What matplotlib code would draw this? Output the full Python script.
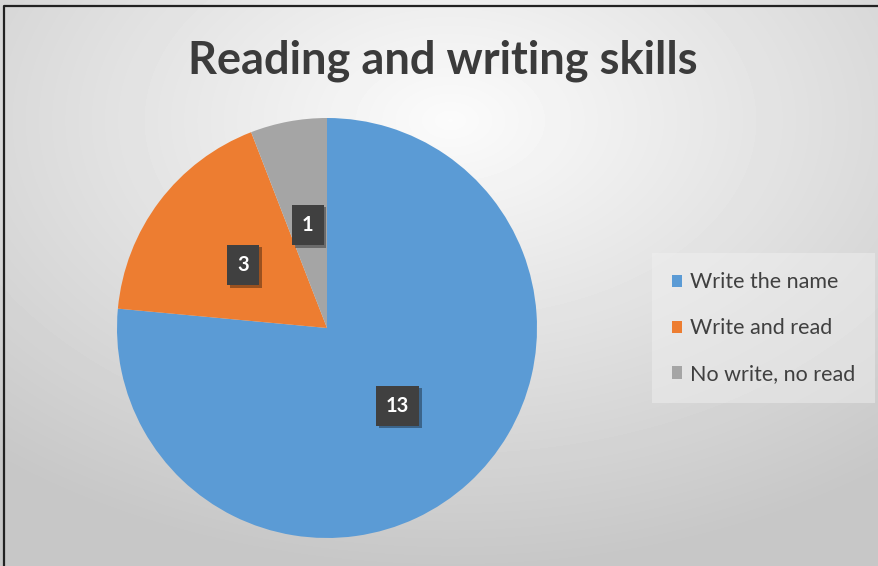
import numpy as np
import matplotlib
matplotlib.use("Agg")
import matplotlib.pyplot as plt
import matplotlib.patheffects as pe
from matplotlib.patches import Patch

labels = ["Write the name", "Write and read", "No write, no read"]
counts = [13, 3, 1]
colors = ["#5B9BD5", "#ED7D31", "#A5A5A5"]

plt.rcParams['font.family'] = ['Lato', 'DejaVu Sans']

fig = plt.figure(figsize=(8.79, 5.66), dpi=100)

# soft radial background, brightest just under the title
bg = fig.add_axes([0, 0, 1, 1], zorder=-10)
yy, xx = np.mgrid[0:566, 0:879]
d = np.sqrt(((xx - 450) / 879.0) ** 2 + ((yy - 120) / 566.0) ** 2)
shade = np.clip(0.985 - 0.26 * d, 0.78, 1.0)
bg.imshow(shade, cmap='gray', vmin=0, vmax=1, extent=[0, 879, 566, 0], aspect='auto')
bg.set_xlim(0, 879)
bg.set_ylim(566, 0)
bg.axis('off')
# frame on left and top edges
bg.plot([4.5, 4.5, 879], [566, 5.5, 5.5], color='#222222', lw=1.6)

fig.text(0.504, 0.893, "Reading and writing skills", ha='center', va='center',
         fontsize=32.5, fontweight='bold', color='#3b3b3b')

ax = fig.add_axes([117 / 879, 28 / 566, 420 / 879, 420 / 566])
wedges, _ = ax.pie(counts, colors=colors, startangle=90, counterclock=False,
                   radius=1.0, wedgeprops=dict(linewidth=0))
ax.set_xlim(-1, 1)
ax.set_ylim(-1, 1)
ax.set_aspect('equal')

# value labels in dark boxes with a drop shadow
total = sum(counts)
start = 90.0
for val in counts:
    mid = np.deg2rad(start - val / total * 360 / 2)
    start -= val / total * 360
    x, y = 0.5 * np.cos(mid), 0.5 * np.sin(mid)
    t = ax.text(x, y, str(val), ha='center', va='center', fontsize=14.5,
                fontweight='bold', color='white',
                bbox=dict(boxstyle='square,pad=0.5', fc='#404040', ec='none'))
    t.get_bbox_patch().set_path_effects(
        [pe.SimplePatchShadow(offset=(2, -2), shadow_rgbFace='black', alpha=0.35),
         pe.Normal()])

handles = [Patch(facecolor=c, edgecolor='none') for c in colors]
leg = fig.legend(handles, labels, loc='center left', bbox_to_anchor=(648 / 879, 0.42),
                 frameon=True, fontsize=15.5, handlelength=0.5, handleheight=0.5,
                 handletextpad=0.35, labelspacing=1.2, borderpad=0.6,
                 labelcolor='#404040')
leg.get_frame().set_facecolor('#f2f2f2')
leg.get_frame().set_edgecolor('none')
leg.get_frame().set_alpha(0.45)
leg.get_frame().set_boxstyle('square')

fig.savefig("out.png", dpi=100)
